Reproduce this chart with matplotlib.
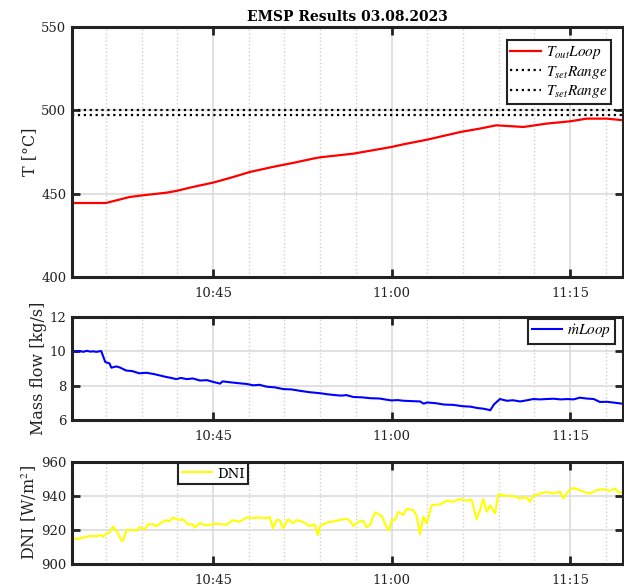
import matplotlib
matplotlib.use("Agg")
import matplotlib.pyplot as plt
from matplotlib.ticker import MultipleLocator, FixedLocator

plt.rcParams['font.family'] = ['DejaVu Serif']
plt.rcParams['mathtext.fontset'] = 'stix'

# time axis: minutes after 10:00
x_min, x_max = 33.15, 79.45
tick_minutes = [45, 60, 75]
tick_labels = ["10:45", "11:00", "11:15"]

# outlet temperature of the loop
t_temp = [33.1, 36.0, 38.0, 39.1, 41.1, 41.9, 43.3, 45.0, 46.7, 48.1, 50.0, 51.7, 53.4, 54.0,
          56.8, 60.0, 61.0, 63.0, 65.8, 67.4, 68.8, 69.7, 71.1, 73.0, 75.0, 76.4, 78.1, 79.5]
temp_out = [444.4, 444.4, 448.0, 449.0, 450.6, 451.6, 454.0, 456.6, 460.0, 463.0, 466.0, 468.4, 471.0, 471.8,
            474.0, 478.0, 479.6, 482.4, 487.0, 489.0, 491.0, 490.6, 490.0, 492.0, 493.4, 495.0, 495.0, 494.0]
t_set_low = 497.0
t_set_high = 500.0

# mass flow of the loop
t_flow = [33.1, 33.5, 33.8, 34.1, 34.4, 34.7, 34.9, 35.2, 35.6, 35.95,
          36.3, 36.45, 36.9, 37.2, 37.7, 38.2, 38.8, 39.4, 40.0, 40.5,
          41.1, 41.5, 41.9, 42.3, 42.8, 43.3, 43.9, 44.5, 45.0, 45.6,
          45.8, 46.4, 47.2, 47.8, 48.4, 48.9, 49.5, 50.2, 50.9, 51.6,
          52.3, 53.1, 54.0, 54.6, 55.4, 55.8, 56.2, 56.8, 57.5, 58.2,
          59.0, 59.6, 60.0, 60.5, 61.0, 61.7, 62.4, 62.7, 63.0, 63.7,
          64.4, 65.2, 66.0, 66.6, 67.2, 67.8, 68.3, 68.6, 69.1, 69.7,
          70.2, 70.8, 71.4, 71.9, 72.5, 73.0, 73.6, 74.2, 74.8, 75.3,
          75.8, 76.4, 77.0, 77.5, 78.1, 78.6, 79.5]
mass_flow = [10.0, 9.98, 10.02, 9.97, 10.03, 9.98, 10.0, 9.97, 10.02, 9.37,
             9.3, 9.05, 9.12, 9.05, 8.88, 8.85, 8.72, 8.75, 8.68, 8.6,
             8.5, 8.45, 8.38, 8.45, 8.38, 8.42, 8.3, 8.32, 8.22, 8.12,
             8.25, 8.2, 8.14, 8.1, 8.02, 8.05, 7.94, 7.9, 7.8, 7.78,
             7.7, 7.62, 7.56, 7.5, 7.44, 7.42, 7.45, 7.34, 7.32, 7.27,
             7.25, 7.18, 7.14, 7.16, 7.12, 7.1, 7.08, 6.95, 7.02, 6.98,
             6.9, 6.88, 6.8, 6.78, 6.7, 6.65, 6.57, 6.9, 7.22, 7.12,
             7.15, 7.08, 7.15, 7.22, 7.2, 7.22, 7.24, 7.2, 7.22, 7.2,
             7.3, 7.25, 7.22, 7.05, 7.06, 7.02, 6.94]

# direct normal irradiance
t_dni = [33.10, 33.52, 34.08, 34.64, 35.20, 35.48, 35.76, 36.04, 36.32, 36.60,
         36.88, 37.30, 37.44, 37.72, 38.28, 38.56, 38.84, 39.26, 39.54, 39.96,
         40.24, 40.80, 41.08, 41.36, 41.64, 42.20, 42.48, 42.90, 43.32, 43.46,
         43.88, 44.44, 45.00, 45.56, 46.12, 46.68, 47.24, 47.80, 48.36, 48.92,
         49.48, 49.76, 50.04, 50.32, 50.60, 50.88, 51.30, 51.72, 52.00, 52.56,
         53.12, 53.54, 53.82, 53.99, 54.55, 55.39, 56.23, 56.51, 56.79, 57.21,
         57.63, 57.91, 58.19, 58.61, 59.17, 59.59, 59.79, 60.01, 60.29, 60.57,
         60.99, 61.27, 61.83, 62.11, 62.39, 62.67, 62.95, 63.37, 63.79, 64.07,
         64.63, 65.19, 65.75, 66.31, 66.73, 67.15, 67.43, 67.71, 67.99, 68.28,
         68.70, 68.98, 69.26, 69.68, 70.24, 70.80, 71.36, 71.64, 71.92, 72.48,
         73.04, 73.60, 74.16, 74.44, 74.86, 75.28, 75.84, 76.40, 76.68, 77.24,
         77.80, 78.36, 78.78, 79.06, 79.53]
dni = [915.5, 914.7, 915.5, 916.5, 916.3, 917.0, 916.0, 918.0, 918.6, 922.0,
       919.6, 914.1, 913.5, 920.0, 920.0, 919.6, 921.6, 920.4, 923.3, 923.3,
       922.3, 925.0, 925.8, 925.2, 927.3, 925.8, 926.4, 923.3, 923.3, 921.4,
       924.0, 922.7, 923.5, 923.5, 923.1, 925.8, 924.8, 927.3, 927.1, 927.3,
       926.9, 927.7, 921.0, 925.8, 925.8, 921.0, 926.3, 924.0, 925.8, 924.8,
       922.3, 923.3, 917.0, 922.3, 924.3, 925.5, 926.6, 925.4, 922.3, 924.8,
       925.4, 921.6, 923.0, 930.4, 928.2, 921.6, 919.6, 925.8, 925.8, 930.7,
       928.8, 932.5, 931.7, 928.2, 917.5, 927.7, 923.9, 934.5, 935.0, 935.0,
       937.2, 936.6, 938.2, 937.2, 937.8, 926.3, 931.7, 938.2, 930.7, 934.6,
       929.7, 941.1, 940.5, 940.1, 939.9, 938.6, 939.2, 936.6, 940.1, 941.5,
       942.3, 941.5, 942.5, 938.6, 943.0, 944.8, 943.4, 941.9, 941.5, 943.4,
       944.0, 943.0, 944.4, 942.1, 941.9]

fig = plt.figure(figsize=(6.24, 5.87), dpi=100)
ax_t = fig.add_axes([0.1154, 0.5281, 0.883, 0.426])
ax_m = fig.add_axes([0.1154, 0.2845, 0.883, 0.1755])
ax_d = fig.add_axes([0.1154, 0.0392, 0.883, 0.1738])


def style_axis(ax, ylim, yticks, ylabel):
    ax.set_xlim(x_min, x_max)
    ax.set_ylim(*ylim)
    ax.set_yticks(yticks)
    ax.xaxis.set_major_locator(FixedLocator(tick_minutes))
    ax.set_xticklabels(tick_labels)
    ax.xaxis.set_minor_locator(MultipleLocator(3))
    ax.set_axisbelow(True)
    ax.grid(True, which='major', color='#dcdcdc', linewidth=1.2, linestyle='-')
    ax.grid(True, which='minor', axis='x', color='#d0d0d0', linewidth=1.0, linestyle=':')
    ax.tick_params(which='major', direction='in', length=6, width=2, top=True, right=True,
                   labelsize=9.5, colors='#222222', labelcolor='#222222', pad=4)
    ax.tick_params(axis='x', which='major', pad=7)
    ax.tick_params(which='minor', length=0)
    for sp in ax.spines.values():
        sp.set_linewidth(2.2)
        sp.set_color('#222222')
    ax.set_ylabel(ylabel, fontsize=11.5, color='#222222', labelpad=2)


style_axis(ax_t, (400, 550), [400, 450, 500, 550], "T [°C]")
ax_t.plot(t_temp, temp_out, color='#ff0000', linewidth=1.6, label=r'$T_{out}Loop$')
ax_t.axhline(t_set_high, color='black', linestyle=':', linewidth=1.6, label=r'$T_{set}Range$')
ax_t.axhline(t_set_low, color='black', linestyle=':', linewidth=1.6, label=r'$T_{set}Range$')
ax_t.set_title("EMSP Results 03.08.2023", fontsize=10, fontweight='bold', pad=4)

style_axis(ax_m, (6, 12), [6, 8, 10, 12], "Mass flow [kg/s]")
ax_m.plot(t_flow, mass_flow, color='#0000ff', linewidth=1.5, label=r'$\dot{m}Loop$')

style_axis(ax_d, (900, 960), [900, 920, 940, 960], r"DNI [W/m$^2$]")
ax_d.plot(t_dni, dni, color='#ffff00', linewidth=1.5, label='DNI')

leg_kw = dict(fancybox=False, framealpha=1, edgecolor='#222222', fontsize=11,
              borderpad=0.25, labelspacing=0.15, handletextpad=0.3, borderaxespad=0)
for ax, loc, anchor in [(ax_t, 'upper right', (0.978, 0.946)),
                        (ax_m, 'upper right', (0.985, 0.985)),
                        (ax_d, 'upper left', (0.192, 0.99))]:
    leg = ax.legend(loc=loc, bbox_to_anchor=anchor, **leg_kw)
    leg.get_frame().set_linewidth(1.5)
for txt in ax_d.get_legend().get_texts():
    txt.set_fontsize(9.5)

fig.savefig("out.png", dpi=100)
